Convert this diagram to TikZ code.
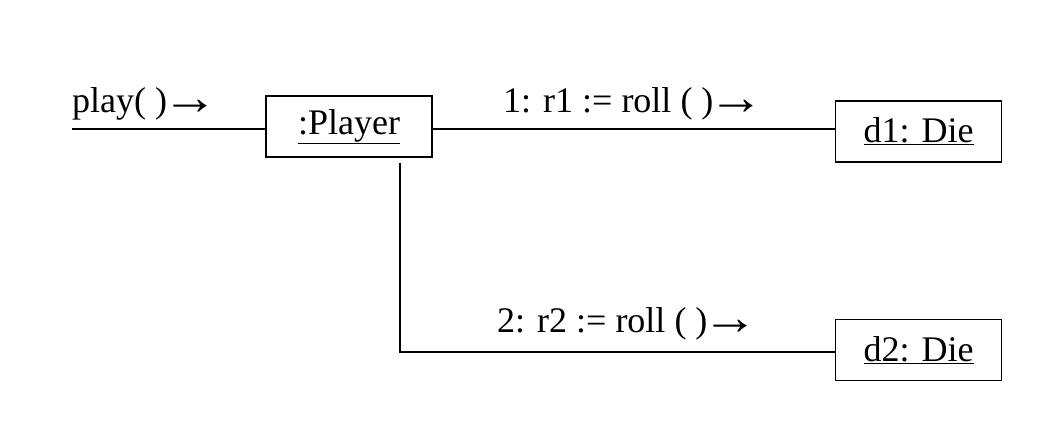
\documentclass[tikz,border=0pt]{standalone}
\usepackage{fontspec}
\setmainfont{Liberation Serif}
\usetikzlibrary{positioning,calc}

\tikzset{
  objbox/.style={draw,line width=1.4pt,minimum width=166pt,minimum height=61pt,inner sep=0pt,
    font=\fontsize{36}{40}\selectfont},
  msglabel/.style={anchor=base west,inner sep=0pt,font=\fontsize{36}{40}\selectfont},
  link/.style={line width=1.4pt}
}
\newcommand{\msgarrow}{\kern-5pt\raisebox{-2pt}{\scalebox{1.55}[1.4]{→}}}

\begin{document}
\begin{tikzpicture}[x=1pt,y=1pt]
\useasboundingbox (0,0) rectangle (1044,442);
% objects
\node[objbox] (player) at (349,315.5) {\underline{:Player}};
\node[objbox] (dieone) at (918.5,310.5) {\underline{d1: Die}};
\node[objbox] (dietwo) at (918.5,92) {\underline{d2: Die}};
% incoming message
\coordinate (start) at (72,313);
\draw[link] (start) -- (start -| player.west);
\node[msglabel] (playmsg) at (72,329) {play( )\msgarrow};
% first roll
\draw[link] (player.east |- start) -- (dieone.west |- start);
\node[msglabel] (rollone) at (503,329) {1: r1 := roll ( )\msgarrow};
% second roll
\coordinate (down) at (400,279);
\coordinate (corner) at (400,90);
\draw[link] (down) -- (corner) -- (corner -| dietwo.west);
\node[msglabel] (rolltwo) at (497,109) {2: r2 := roll ( )\msgarrow};
\end{tikzpicture}
\end{document}
